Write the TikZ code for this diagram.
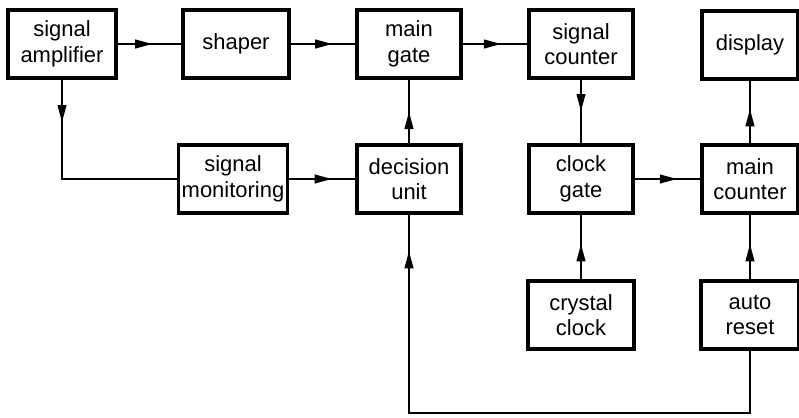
\documentclass[tikz,border=0pt]{standalone}
\usepackage{fontspec}
\setmainfont{Liberation Sans}
\usetikzlibrary{arrows.meta, decorations.markings}

\tikzset{
  blk/.style={draw, line width=2pt, minimum width=2.08cm, minimum height=1.36cm,
    inner sep=1pt, align=center, font=\fontsize{12.5}{14.5}\selectfont},
  % connector with the arrow head part way along
  flow/.style={line width=1.4pt, postaction={decorate},
    decoration={markings, mark=at position #1 with
      {\arrow{Triangle[length=3.5mm, width=1.7mm]}}}},
  flow/.default=0.6
}

\begin{document}
\begin{tikzpicture}[x=0.02cm, y=-0.02cm]
    \useasboundingbox (0,0) rectangle (799,417);
    % top row
    \node[blk, minimum width=2.16cm] (amp) at (62,44) {signal\\amplifier};
    \node[blk, minimum width=2.12cm] (shaper) at (236,44) {shaper};
    \node[blk] (gate) at (409,44) {main\\gate};
    \node[blk] (sigcnt) at (581,44) {signal\\counter};
    \node[blk, minimum width=1.92cm] (display) at (750,45) {display};
    % middle row
    \node[blk, minimum width=2.18cm] (mon) at (233,179) {signal\\monitoring};
    \node[blk] (dec) at (409,179) {decision\\unit};
    \node[blk] (clkgate) at (581,179) {clock\\gate};
    \node[blk, minimum width=1.92cm] (maincnt) at (750,179) {main\\counter};
    % bottom row
    \node[blk, minimum width=2.12cm] (crystal) at (581,315) {crystal\\clock};
    \node[blk, minimum width=1.96cm] (reset) at (750,315) {auto\\reset};
    \coordinate (fb) at (409,413);

    \draw[flow=0.55] (amp) -- (shaper);
    \draw[flow=0.65] (shaper) -- (gate);
    \draw[flow=0.6] (gate) -- (sigcnt);
    \draw[flow=0.2] (amp.south) |- (mon.west);
    \draw[flow=0.65] (mon) -- (dec);
    \draw[flow=0.5] (dec) -- (gate);
    \draw[flow=0.5] (sigcnt) -- (clkgate);
    \draw[flow=0.65] (clkgate) -- (maincnt);
    \draw[flow=0.55] (maincnt) -- (display);
    \draw[flow=0.55] (crystal) -- (clkgate);
    \draw[flow=0.55] (reset) -- (maincnt);
    % reset loop back to the decision unit
    \draw[flow=0.94] (reset.south) |- (fb) -- (dec.south);
\end{tikzpicture}
\end{document}
